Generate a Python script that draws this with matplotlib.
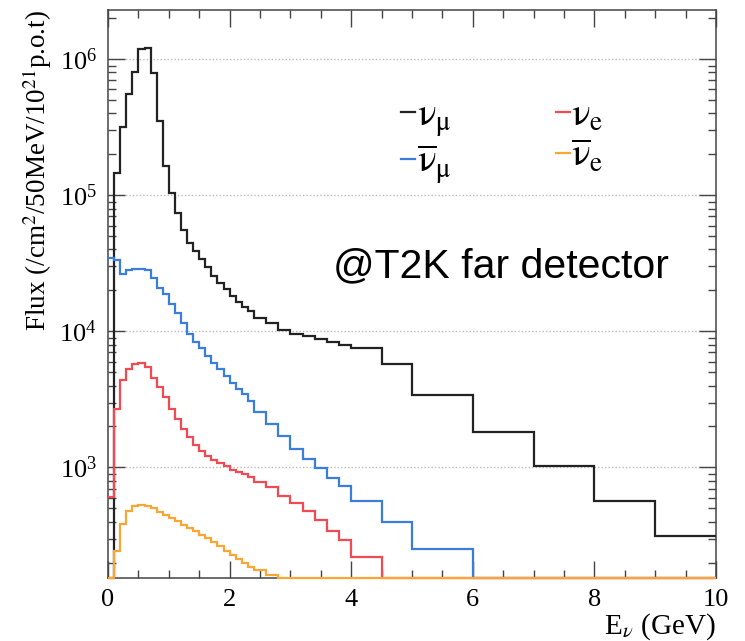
import numpy as np
import matplotlib
matplotlib.use('Agg')
import matplotlib.pyplot as plt
from matplotlib.lines import Line2D
from matplotlib.ticker import MultipleLocator, LogLocator, NullFormatter

plt.rcParams['font.family'] = ['Liberation Serif', 'DejaVu Serif']
plt.rcParams['mathtext.fontset'] = 'custom'
plt.rcParams['mathtext.rm'] = 'STIXGeneral'
plt.rcParams['mathtext.it'] = 'STIXGeneral:italic'
plt.rcParams['mathtext.bf'] = 'STIXGeneral:bold'

# bin edges in GeV (variable binning)
edges = [0.0, 0.1, 0.2, 0.3, 0.4, 0.5, 0.6, 0.7, 0.8, 0.9, 1.0,
         1.1, 1.2, 1.3, 1.4, 1.5, 1.6, 1.7, 1.8, 1.9, 2.0,
         2.1, 2.2, 2.3, 2.4, 2.6, 2.8, 3.0, 3.2, 3.4, 3.6, 3.8, 4.0,
         4.5, 5.0, 6.0, 7.0, 8.0, 9.0, 10.0]

numu = [0, 1.45e5, 3.2e5, 5.6e5, 8.1e5, 1.2e6, 1.22e6, 7.9e5, 3.5e5, 1.65e5,
        1.04e5, 7.4e4, 5.6e4, 4.5e4, 3.9e4, 3.4e4, 2.95e4, 2.55e4, 2.28e4, 2.04e4,
        1.82e4, 1.65e4, 1.52e4, 1.42e4,
        1.26e4, 1.15e4, 1.03e4, 9.5e3, 9.2e3, 8.75e3, 8.36e3, 7.9e3,
        7.55e3, 5.8e3, 3.42e3, 1.83e3, 1.03e3, 571, 313]

numubar = [3.44e4, 3.34e4, 2.66e4, 2.82e4, 2.88e4, 2.88e4, 2.85e4, 2.48e4, 2.1e4, 1.87e4,
           1.58e4, 1.37e4, 1.16e4, 9.5e3, 8.4e3, 7.5e3, 6.6e3, 5.9e3, 5.3e3, 4.7e3,
           4.2e3, 3.8e3, 3.45e3, 3.09e3,
           2.54e3, 2.08e3, 1.71e3, 1.37e3, 1.15e3, 986, 834, 736,
           571, 396, 252, 0, 0, 0, 0]

nue = [607, 2.69e3, 4.4e3, 5.27e3, 5.74e3, 5.84e3, 5.43e3, 4.58e3, 3.87e3, 3.27e3,
       2.69e3, 2.27e3, 1.92e3, 1.66e3, 1.45e3, 1.33e3, 1.22e3, 1.14e3, 1.07e3, 1.02e3,
       964, 925, 890, 848,
       779, 716, 621, 549, 482, 414, 344, 291,
       220, 0, 0, 0, 0, 0, 0]

nuebar = [0, 245, 384, 475, 525, 532, 522, 500, 474, 449,
          425, 401, 379, 358, 339, 320, 303, 283, 264, 245,
          228, 213, 198, 186,
          175, 162, 0, 0, 0, 0, 0, 0,
          0, 0, 0, 0, 0, 0, 0]

YMIN, YMAX = 154, 2.3e6

series = [
    (numu,    '#222222', r'$\mathrm{\nu_{\mu}}$'),
    (numubar, '#3a7ddb', r'$\mathrm{\overline{\nu}_{\mu}}$'),
    (nue,     '#f04b55', r'$\mathrm{\nu_{e}}$'),
    (nuebar,  '#f8a634', r'$\mathrm{\overline{\nu}_{e}}$'),
]

fig = plt.figure(figsize=(7.45, 6.41), dpi=100)
ax = fig.add_axes([0.145, 0.0983, 0.816, 0.886])

for vals, col, lab in series:
    v = np.array(vals, dtype=float)
    # empty bins are drawn on the bottom of the frame, ROOT style
    v = np.where(v > 0, v, YMIN)
    ax.stairs(v, edges, baseline=None, color=col, lw=1.6, zorder=5, clip_on=False)

ax.set_yscale('log')
ax.set_xlim(0, 10)
ax.set_ylim(YMIN, YMAX)

ax.xaxis.set_major_locator(MultipleLocator(2))
ax.xaxis.set_minor_locator(MultipleLocator(0.5))
ax.yaxis.set_major_locator(LogLocator(base=10))
ax.yaxis.set_minor_locator(LogLocator(base=10, subs=np.arange(2, 10)))
ax.yaxis.set_minor_formatter(NullFormatter())

ax.tick_params(which='both', direction='in', top=True, right=True,
               colors='#444444', labelcolor='black', width=1.0)
ax.tick_params(which='major', length=12, labelsize=19, pad=8)
ax.tick_params(which='minor', length=6)
for s in ax.spines.values():
    s.set_color('#444444')
    s.set_linewidth(1.1)

ax.grid(True, which='major', axis='y', color='#bbbbbb', linestyle=(0, (1, 1.5)), lw=1.0)
ax.set_axisbelow(True)

ax.set_ylabel(r'Flux (/cm$^{2}$/50MeV/10$^{21}$p.o.t)', fontsize=19.5, loc='top', labelpad=4)
ax.set_xlabel(r'E$_{\nu}$ (GeV)', fontsize=21, loc='right', labelpad=0)

handles = [Line2D([], [], color=c, lw=1.6) for _, c, _ in series]
labels = [l for _, _, l in series]
ax.legend(handles, labels, ncol=2, loc='upper left', bbox_to_anchor=(0.482, 0.845),
          frameon=False, fontsize=28, handlelength=0.35, handletextpad=0.05,
          columnspacing=2.7, labelspacing=0.08, borderpad=0, borderaxespad=0)

ax.text(0.370, 0.530, '@T2K far detector', transform=ax.transAxes,
        fontsize=29.5, family=['Liberation Sans', 'DejaVu Sans'], va='baseline')

fig.savefig('out.png', dpi=100)
